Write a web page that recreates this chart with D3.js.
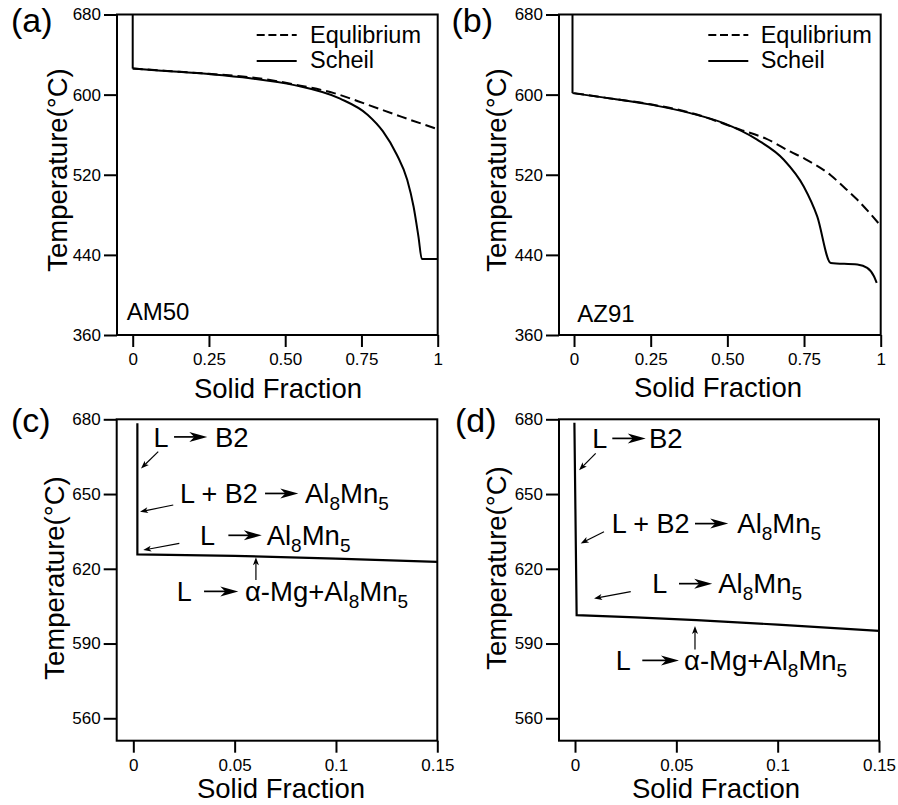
<!DOCTYPE html>
<html><head><meta charset="utf-8">
<script src="https://cdn.jsdelivr.net/npm/d3@7"></script>
<style>
body{margin:0;background:#fff}
text{font-family:"Liberation Sans",Arial,Helvetica,sans-serif;fill:#000}
</style>
</head><body>
<svg id="chart" width="898" height="805"></svg>
<script>
// ---------------- DATA ----------------
// (a) AM50 full solidification
const am50ScheilFrac = [0, 0, 0.1, 0.25, 0.385, 0.53, 0.68, 0.77, 0.82, 0.866, 0.9, 0.921, 0.937, 0.948, 1.0];
const am50ScheilTemp = [680, 626, 623.8, 620.5, 616.4, 609.5, 596, 580, 563.5, 540, 515, 488, 458, 436, 436];
const am50EquilFrac  = [0, 0.1, 0.25, 0.385, 0.55, 0.66, 0.77, 0.88, 1.0];
const am50EquilTemp  = [626, 623.9, 620.8, 617.4, 609, 601.5, 590, 578, 565.5];
// (b) AZ91 full solidification
const az91ScheilFrac = [-0.005, -0.005, 0.1, 0.25, 0.379, 0.488, 0.597, 0.684, 0.749, 0.793, 0.837, 0.924, 0.956, 0.978, 0.987];
const az91ScheilTemp = [680, 601.5, 597, 590, 581.5, 571.5, 555, 535, 508.3, 478.4, 432, 430.3, 427, 418.6, 412];
const az91EquilFrac  = [0, 0.1, 0.25, 0.379, 0.542, 0.626, 0.706, 0.752, 0.837, 0.877, 0.924, 1.0];
const az91EquilTemp  = [601.5, 597, 590.3, 582, 565, 556, 543, 536, 519.5, 508.5, 495, 469];
// (c) AM50 early solidification
const am50EarlyFrac = [0.002, 0.002, 0.05, 0.1, 0.15];
const am50EarlyTemp = [678.4, 625.8, 625.2, 624.1, 622.8];
// (d) AZ91 early solidification
const az91EarlyFrac = [-0.0003, 0.0008, 0.03, 0.06, 0.1, 0.15];
const az91EarlyTemp = [678.6, 601.4, 600.5, 599.4, 597.6, 595.1];

// tick values / labels
const fullFracTicks  = [0, 0.25, 0.5, 0.75, 1];
const fullFracLabels = ["0", "0.25", "0.50", "0.75", "1"];
const zoomFracTicks  = [0, 0.05, 0.1, 0.15];
const zoomFracLabels = ["0", "0.05", "0.1", "0.15"];
const fullTempTicks  = [360, 440, 520, 600, 680];
const zoomTempTicks  = [560, 590, 620, 650, 680];

// texts
const panelLetters = ["(a)", "(b)", "(c)", "(d)"];
const alloyNames = ["AM50", "AZ91"];
const legendNames = ["Equlibrium", "Scheil"];
const xTitle = "Solid Fraction";
const yTitle = "Temperature(\u00B0C)";

// reaction annotations (data coords: solid fraction / temperature)
const reactionsC = [
  {lhs: "L",      rhs: "B2",                x: 0.0099, ax0: 0.0201, ax1: 0.0365, rx: 0.0403, t: 669.0},
  {lhs: "L + B2", rhs: "Al_8Mn_5",          x: 0.0230, ax0: 0.0650, ax1: 0.0814, rx: 0.0847, t: 646.3},
  {lhs: "L",      rhs: "Al_8Mn_5",          x: 0.0329, ax0: 0.0469, ax1: 0.0634, rx: 0.0658, t: 629.5},
  {lhs: "L",      rhs: "\u03B1-Mg+Al_8Mn_5", x: 0.0214, ax0: 0.0349, ax1: 0.0518, rx: 0.0551, t: 607.0}
];
const pointersC = [
  {x0: 0.0123, t0: 667.0, x1: 0.0038, t1: 660.3},
  {x0: 0.0197, t0: 645.6, x1: 0.0033, t1: 642.9},
  {x0: 0.0227, t0: 630.2, x1: 0.0049, t1: 627.5},
  {x0: 0.0605, t0: 615.5, x1: 0.0605, t1: 624.6}
];
const reactionsD = [
  {lhs: "L",      rhs: "B2",                x: 0.0085, ax0: 0.0184, ax1: 0.0349, rx: 0.0365, t: 668.4},
  {lhs: "L + B2", rhs: "Al_8Mn_5",          x: 0.0181, ax0: 0.0592, ax1: 0.0756, rx: 0.0801, t: 634.2},
  {lhs: "L",      rhs: "Al_8Mn_5",          x: 0.0381, ax0: 0.0513, ax1: 0.0677, rx: 0.0707, t: 610.1},
  {lhs: "L",      rhs: "\u03B1-Mg+Al_8Mn_5", x: 0.0201, ax0: 0.0332, ax1: 0.0513, rx: 0.0538, t: 579.3}
];
const pointersD = [
  {x0: 0.0102, t0: 666.3, x1: 0.0020, t1: 659.6},
  {x0: 0.0143, t0: 634.9, x1: 0.0028, t1: 630.2},
  {x0: 0.0275, t0: 610.8, x1: 0.0094, t1: 608.1},
  {x0: 0.0592, t0: 587.6, x1: 0.0592, t1: 597.0}
];

// ---------------- LAYOUT ----------------
const zip = (xs, ys) => xs.map((x, i) => [x, ys[i]]);
const panels = [
  {x0: 117, x1: 437.7, y0: 14.5, y1: 335, xd: [-0.0515, 1], yd: [360, 680],
   xt: fullFracTicks, xl: fullFracLabels, yt: fullTempTicks,
   letter: [11, 32], xTitle: [278, 398], yTitle: [67, 170],
   alloy: alloyNames[0], alloyPos: [126.7, 320], legend: [256.7, 296.7, 310],
   scheil: zip(am50ScheilFrac, am50ScheilTemp), equil: zip(am50EquilFrac, am50EquilTemp)},
  {x0: 559, x1: 880.7, y0: 14.5, y1: 335, xd: [-0.049, 1], yd: [360, 680],
   xt: fullFracTicks, xl: fullFracLabels, yt: fullTempTicks,
   letter: [451.5, 32], xTitle: [718, 397], yTitle: [506, 170],
   alloy: alloyNames[1], alloyPos: [577.3, 321.5], legend: [708.3, 748.3, 760.7],
   scheil: zip(az91ScheilFrac, az91ScheilTemp), equil: zip(az91EquilFrac, az91EquilTemp)},
  {x0: 116.7, x1: 437.3, y0: 419.3, y1: 740.7, xd: [-0.0082, 0.15], yd: [551, 680],
   xt: zoomFracTicks, xl: zoomFracLabels, yt: zoomTempTicks,
   letter: [11, 432], xTitle: [281, 798], yTitle: [64, 578],
   early: zip(am50EarlyFrac, am50EarlyTemp), reactions: reactionsC, pointers: pointersC},
  {x0: 559, x1: 879, y0: 419.3, y1: 740.7, xd: [-0.0079, 0.15], yd: [551, 680],
   xt: zoomFracTicks, xl: zoomFracLabels, yt: zoomTempTicks,
   letter: [455, 432], xTitle: [716, 798], yTitle: [506, 568],
   early: zip(az91EarlyFrac, az91EarlyTemp), reactions: reactionsD, pointers: pointersD}
];

const svg = d3.select("#chart");

function addRich(textSel, str, size, subSize) {
  const parts = str.split(/(_\d)/).filter(s => s.length);
  let sub = false;
  parts.forEach(p => {
    if (p[0] === "_") {
      textSel.append("tspan").attr("font-size", subSize).attr("dy", 6.5).text(p.slice(1));
      sub = true;
    } else {
      const ts = textSel.append("tspan").attr("font-size", size).text(p);
      if (sub) { ts.attr("dy", -6.5); sub = false; }
    }
  });
}

function textArrow(g, xa, xb, y) {
  g.append("line").attr("x1", xa).attr("x2", xb - 10).attr("y1", y).attr("y2", y)
    .attr("stroke", "#000").attr("stroke-width", 1.7);
  g.append("path")
    .attr("d", `M${xb},${y} L${xb - 18},${y - 5} L${xb - 13},${y} L${xb - 18},${y + 5} Z`)
    .attr("fill", "#000");
}

function pointer(g, xa, ya, xb, yb) {
  const ang = Math.atan2(yb - ya, xb - xa);
  const L = 8, W = 3, N = 6;
  const ca = Math.cos(ang), sa = Math.sin(ang);
  const bx = xb - ca * L, by = yb - sa * L;
  const nx = xb - ca * N, ny = yb - sa * N;
  g.append("line").attr("x1", xa).attr("y1", ya).attr("x2", nx).attr("y2", ny)
    .attr("stroke", "#000").attr("stroke-width", 1.2);
  g.append("path")
    .attr("d", `M${xb},${yb} L${bx - sa * W},${by + ca * W} L${nx},${ny} L${bx + sa * W},${by - ca * W} Z`)
    .attr("fill", "#000");
}

panels.forEach((p, i) => {
  const x = d3.scaleLinear().domain(p.xd).range([p.x0, p.x1]);
  const y = d3.scaleLinear().domain(p.yd).range([p.y1, p.y0]);
  const g = svg.append("g");

  // axes
  const ax = g.append("g").attr("transform", `translate(0,${p.y1})`)
    .call(d3.axisBottom(x).tickValues(p.xt).tickSize(12).tickPadding(6)
      .tickFormat((d, k) => p.xl[k]));
  const ay = g.append("g").attr("transform", `translate(${p.x0},0)`)
    .call(d3.axisLeft(y).tickValues(p.yt).tickSize(13).tickPadding(3).tickFormat(d3.format("d")));
  [ax, ay].forEach(a => {
    a.select(".domain").remove();
    a.selectAll(".tick line").attr("stroke", "#000").attr("stroke-width", 2);
    a.selectAll(".tick text").attr("font-size", 17).attr("fill", "#111")
      .attr("font-family", '"Liberation Sans",Arial,sans-serif');
  });

  // frame
  g.append("rect").attr("x", p.x0).attr("y", p.y0)
    .attr("width", p.x1 - p.x0).attr("height", p.y1 - p.y0)
    .attr("fill", "none").attr("stroke", "#000").attr("stroke-width", 2);

  // titles
  g.append("text").attr("x", p.xTitle[0]).attr("y", p.xTitle[1])
    .attr("text-anchor", "middle").attr("font-size", 27.5).text(xTitle);
  g.append("text").attr("transform", `translate(${p.yTitle[0]},${p.yTitle[1]}) rotate(-90)`)
    .attr("text-anchor", "middle").attr("font-size", 27.5).text(yTitle);
  g.append("text").attr("x", p.letter[0]).attr("y", p.letter[1])
    .attr("font-size", 34).text(panelLetters[i]);

  if (p.scheil) {
    const smooth = d3.line().x(d => x(d[0])).y(d => y(d[1])).curve(d3.curveMonotoneX);
    const straight = d3.line().x(d => x(d[0])).y(d => y(d[1]));
    g.append("path").attr("d", straight(p.scheil.slice(0, 2)))
      .attr("fill", "none").attr("stroke", "#000").attr("stroke-width", 2);
    g.append("path").attr("d", smooth(p.scheil.slice(1)))
      .attr("fill", "none").attr("stroke", "#000").attr("stroke-width", 2).attr("stroke-linejoin", "round");
    g.append("path").attr("d", smooth(p.equil))
      .attr("fill", "none").attr("stroke", "#000").attr("stroke-width", 2)
      .attr("stroke-dasharray", "10,5");

    // legend
    const [lx0, lx1, tx] = p.legend;
    g.append("line").attr("x1", lx0).attr("x2", lx1).attr("y1", 35).attr("y2", 35)
      .attr("stroke", "#000").attr("stroke-width", 2).attr("stroke-dasharray", "8,3.7");
    g.append("line").attr("x1", lx0).attr("x2", lx1).attr("y1", 61).attr("y2", 61)
      .attr("stroke", "#000").attr("stroke-width", 2);
    g.append("text").attr("x", tx).attr("y", 42.7).attr("font-size", 23.5).text(legendNames[0]);
    g.append("text").attr("x", tx).attr("y", 68.3).attr("font-size", 23.5).text(legendNames[1]);

    g.append("text").attr("x", p.alloyPos[0]).attr("y", p.alloyPos[1])
      .attr("font-size", 24).text(p.alloy);
  } else {
    const straight = d3.line().x(d => x(d[0])).y(d => y(d[1]));
    g.append("path").attr("d", straight(p.early))
      .attr("fill", "none").attr("stroke", "#000").attr("stroke-width", 2.2)
      .attr("stroke-linejoin", "miter");

    p.reactions.forEach(r => {
      const by = y(r.t);
      g.append("text").attr("x", x(r.x)).attr("y", by).attr("font-size", 27)
        .style("white-space", "pre").text(r.lhs);
      textArrow(g, x(r.ax0), x(r.ax1), by - 9.8);
      const t = g.append("text").attr("x", x(r.rx)).attr("y", by);
      addRich(t, r.rhs, 27.5, 19);
    });
    p.pointers.forEach(q => pointer(g, x(q.x0), y(q.t0), x(q.x1), y(q.t1)));
  }
});
</script>
</body></html>
